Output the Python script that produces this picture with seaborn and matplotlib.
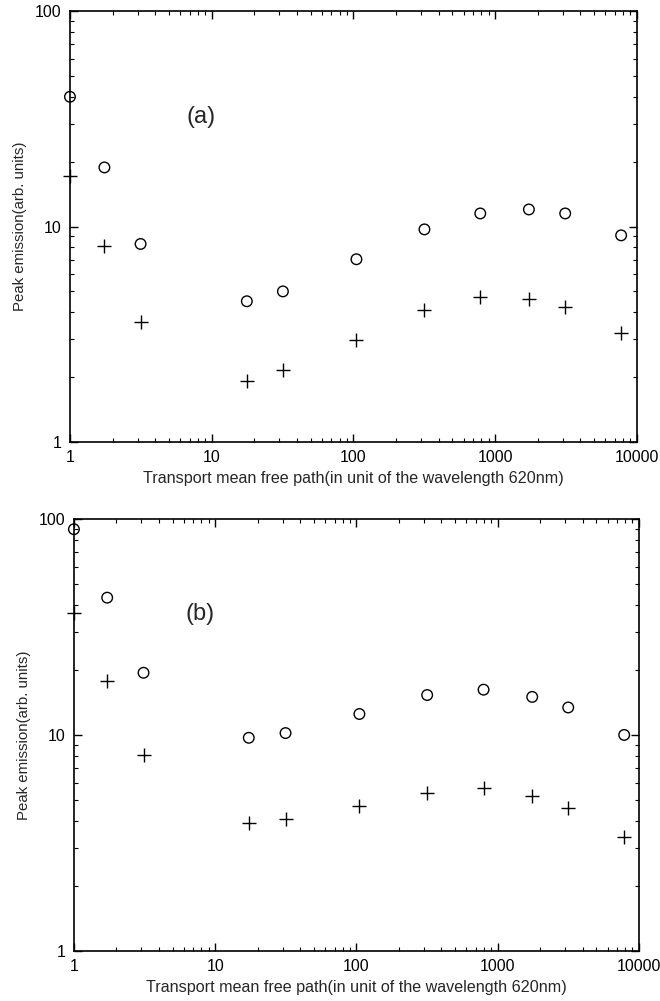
import matplotlib
matplotlib.use("Agg")
import matplotlib.pyplot as plt
import matplotlib.ticker as mticker
import seaborn as sns
import pandas as pd

# ---- data ----
path_a = [1.0, 1.75, 3.15, 17.7, 31.8, 105, 317, 785, 1730, 3120, 7740]
circle_a = [40.0, 18.8, 8.3, 4.5, 5.0, 7.05, 9.7, 11.5, 12.0, 11.5, 9.1]
plus_a = [17.2, 8.1, 3.6, 1.92, 2.15, 2.97, 4.08, 4.69, 4.62, 4.23, 3.22]

path_b = [1.0, 1.72, 3.11, 17.3, 31.5, 105, 317, 795, 1757, 3160, 7870]
circle_b = [89.6, 43.2, 19.4, 9.7, 10.2, 12.5, 15.3, 16.2, 15.0, 13.4, 10.0]
plus_b = [36.6, 17.8, 8.1, 3.93, 4.07, 4.69, 5.37, 5.7, 5.24, 4.59, 3.38]

x_ticks = [1, 10, 100, 1000, 10000]
y_ticks = [1, 10, 100]
panel_labels = ["(a)", "(b)"]
x_label = "Transport mean free path(in unit of the wavelength 620nm)"
y_label = "Peak emission(arb. units)"

sns.set_style("ticks")
plt.rcParams["font.family"] = ["Liberation Sans", "DejaVu Sans"]

fig = plt.figure(figsize=(6.6, 10.01), dpi=100)
ax_a = fig.add_axes([0.106, 0.5584, 0.859, 0.4306])
ax_b = fig.add_axes([0.112, 0.050, 0.856, 0.4316])

panels = [
    (ax_a, path_a, circle_a, plus_a, panel_labels[0], (201, 117)),
    (ax_b, path_b, circle_b, plus_b, panel_labels[1], (200, 614)),
]

for ax, xs, cs, ps, lab, pos in panels:
    df = pd.DataFrame({"x": xs, "circle": cs, "plus": ps})
    sns.scatterplot(data=df, x="x", y="circle", ax=ax, marker="o", s=58,
                    facecolor="none", edgecolor="black", linewidth=1.0,
                    clip_on=False, zorder=3)
    sns.scatterplot(data=df, x="x", y="plus", ax=ax, marker="+", s=100,
                    color="black", linewidth=1.0, clip_on=False, zorder=3)
    ax.set_xscale("log")
    ax.set_yscale("log")
    ax.set_xlim(1, 10000)
    ax.set_ylim(1, 100)
    ax.xaxis.set_major_locator(mticker.FixedLocator(x_ticks))
    ax.yaxis.set_major_locator(mticker.FixedLocator(y_ticks))
    ax.xaxis.set_major_formatter(mticker.FuncFormatter(lambda v, p: f"{int(round(v))}"))
    ax.yaxis.set_major_formatter(mticker.FuncFormatter(lambda v, p: f"{int(round(v))}"))
    ax.xaxis.set_minor_locator(mticker.LogLocator(base=10, subs=range(2, 10), numticks=20))
    ax.yaxis.set_minor_locator(mticker.LogLocator(base=10, subs=range(2, 10), numticks=20))
    ax.xaxis.set_minor_formatter(mticker.NullFormatter())
    ax.yaxis.set_minor_formatter(mticker.NullFormatter())
    ax.tick_params(which="both", direction="in", top=True, right=True,
                   colors="black", labelsize=11.5)
    ax.tick_params(which="major", length=6, width=1.0, pad=6)
    ax.tick_params(which="minor", length=3, width=0.8)
    for sp in ax.spines.values():
        sp.set_visible(True)
        sp.set_linewidth(1.2)
        sp.set_color("black")
    ax.set_xlabel(x_label, fontsize=11.6, labelpad=4)
    ax.set_ylabel(y_label, fontsize=10.8, labelpad=6)
    fig.text(pos[0] / 660, 1 - pos[1] / 1001, lab, fontsize=17,
             ha="center", va="center")

fig.savefig("out.png", dpi=100)
